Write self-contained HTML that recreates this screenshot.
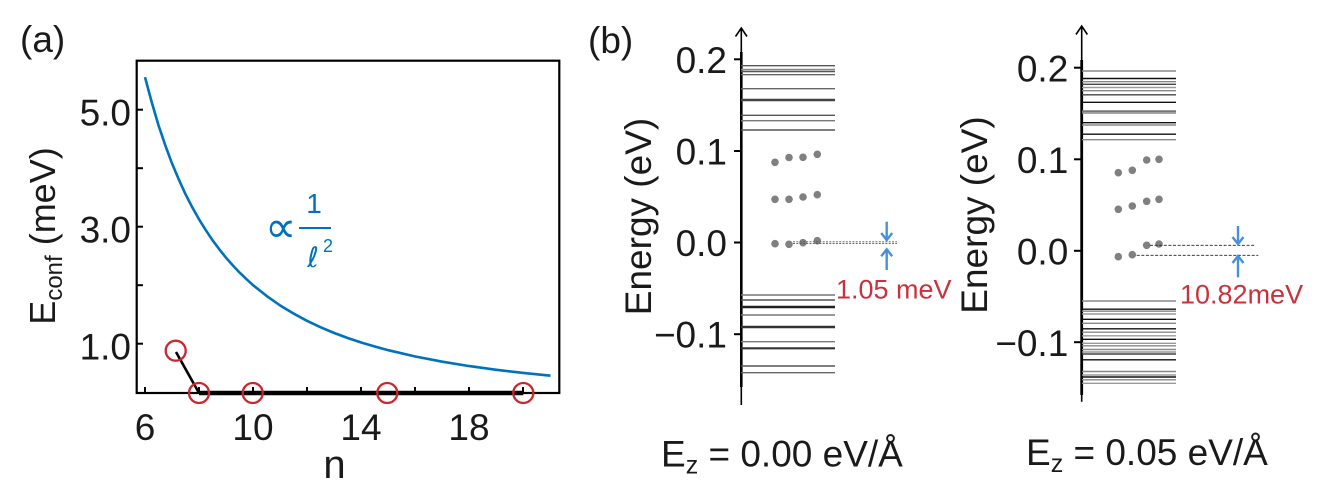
<!DOCTYPE html>
<html>
<head>
<meta charset="utf-8">
<style>
  html,body{margin:0;padding:0;background:#fff;}
  svg{display:block;}
  text{font-family:"Liberation Sans","DejaVu Sans",sans-serif;fill:#1a1a1a;}
</style>
</head>
<body>
<svg width="1325" height="489" viewBox="0 0 1325 489" xmlns="http://www.w3.org/2000/svg">
  <!-- ================= Panel (a) ================= -->
  <text x="20" y="52" font-size="37">(a)</text>

  <!-- blue curve -->
  <polyline fill="none" stroke="#0072bd" stroke-width="2.6" stroke-linejoin="round"
    points="145,77.2 151.8,102.5 158.5,125.3 165.3,145.3 172,163.4 178.8,179.5 185.5,194.2 192.3,207.4 199.1,219.4 205.9,230.3 212.6,240.3 219.4,249.4 226.1,257.8 232.9,265.5 239.6,272.6 246.4,279.1 253.1,285.2 266.6,295.9 280.2,305.5 293.7,313.6 307.2,320.95 320.7,327.3 334.2,333 347.7,338 361.2,342.5 374.8,346.5 388.3,350.2 415.3,356.5 442.3,361.7 469.4,366.1 496.4,369.8 523.4,372.95 550.5,375.7"/>

  <!-- black data line -->
  <polyline fill="none" stroke="#000" stroke-width="2.6" points="176,352 199,393"/>
  <line x1="199" y1="393" x2="523.3" y2="393" stroke="#000" stroke-width="4.5"/>

  <!-- frame -->
  <rect x="136.7" y="60.7" width="422.6" height="332.3" fill="none" stroke="#000" stroke-width="2.2"/>

  <!-- y ticks -->
  <g stroke="#000" stroke-width="2">
    <line x1="137" y1="109.7" x2="143" y2="109.7"/>
    <line x1="137" y1="168.2" x2="143" y2="168.2"/>
    <line x1="137" y1="226.7" x2="143" y2="226.7"/>
    <line x1="137" y1="285.2" x2="143" y2="285.2"/>
    <line x1="137" y1="343.7" x2="143" y2="343.7"/>
    <!-- x ticks -->
    <line x1="145" y1="393" x2="145" y2="387"/>
    <line x1="199" y1="393" x2="199" y2="387"/>
    <line x1="253" y1="393" x2="253" y2="387"/>
    <line x1="307" y1="393" x2="307" y2="387"/>
    <line x1="361" y1="393" x2="361" y2="387"/>
    <line x1="415" y1="393" x2="415" y2="387"/>
    <line x1="469" y1="393" x2="469" y2="387"/>
    <line x1="523" y1="393" x2="523" y2="387"/>
  </g>

  <!-- red circles -->
  <g fill="none" stroke="#c8282e" stroke-width="2.3">
    <circle cx="175.7" cy="350.7" r="10"/>
    <circle cx="199" cy="393" r="10"/>
    <circle cx="252.7" cy="393" r="10"/>
    <circle cx="387.3" cy="393" r="10"/>
    <circle cx="523.3" cy="393" r="10"/>
  </g>

  <!-- y tick labels -->
  <g font-size="37" text-anchor="end">
    <text x="131" y="125.7">5.0</text>
    <text x="131" y="242.7">3.0</text>
    <text x="131" y="359.7">1.0</text>
  </g>
  <!-- x tick labels -->
  <g font-size="37" text-anchor="middle">
    <text x="145" y="440">6</text>
    <text x="253" y="440">10</text>
    <text x="361" y="440">14</text>
    <text x="469" y="440">18</text>
  </g>
  <text x="334.5" y="478" font-size="40" text-anchor="middle">n</text>

  <!-- y label -->
  <text transform="translate(55,236) rotate(-90)" font-size="36" text-anchor="middle">E<tspan font-size="24" dy="7">conf</tspan><tspan dy="-7"> (meV)</tspan></text>

  <!-- annotation -->
  <text x="265" y="242" font-size="44" style="font-family:'DejaVu Sans',sans-serif;fill:#0072bd">∝</text>
  <line x1="299" y1="228" x2="331" y2="228" stroke="#0072bd" stroke-width="2"/>
  <text x="314" y="213" font-size="28" text-anchor="middle" style="fill:#0072bd">1</text>
  <text x="313" y="267" font-size="28" text-anchor="middle" style="font-family:'DejaVu Sans',sans-serif;fill:#0072bd;font-style:italic">ℓ</text>
  <text x="328" y="252" font-size="18" text-anchor="middle" style="fill:#0072bd">2</text>

  <!-- ================= Panel (b) ================= -->
  <text x="588" y="53" font-size="37">(b)</text>

  <!-- ---- b1 ---- -->
  <g>
    <line x1="741.3" y1="28" x2="741.3" y2="405" stroke="#000" stroke-width="1.6"/>
    <line x1="741.3" y1="52" x2="741.3" y2="387" stroke="#000" stroke-width="2.6"/>
    <polyline points="735.5,36.5 741.3,28 747,36.5" fill="none" stroke="#000" stroke-width="1.6"/>
    <g stroke="#000" stroke-width="2">
      <line x1="734" y1="59.3" x2="741.3" y2="59.3"/>
      <line x1="734" y1="151" x2="741.3" y2="151"/>
      <line x1="734" y1="242.5" x2="741.3" y2="242.5"/>
      <line x1="734" y1="334.2" x2="741.3" y2="334.2"/>
    </g>
    <g font-size="37" text-anchor="end">
      <text x="727" y="73">0.2</text>
      <text x="727" y="164.5">0.1</text>
      <text x="727" y="256">0.0</text>
      <text x="727" y="347.7">−0.1</text>
    </g>
    <text transform="translate(651,216.5) rotate(-90)" font-size="37" text-anchor="middle">Energy (eV)</text>

    <!-- bands -->
    <g stroke-width="1.4">
      <line x1="741" y1="65.7" x2="835" y2="65.7" stroke="#555"/>
      <line x1="741" y1="69.5" x2="835" y2="69.5" stroke="#888"/>
      <line x1="741" y1="71.5" x2="835" y2="71.5" stroke="#555"/>
      <line x1="741" y1="74.7" x2="835" y2="74.7" stroke="#666"/>
      <line x1="741" y1="88.7" x2="835" y2="88.7" stroke="#666"/>
      <line x1="741" y1="100" x2="835" y2="100" stroke="#444" stroke-width="2.6"/>
      <line x1="741" y1="115.3" x2="835" y2="115.3" stroke="#555"/>
      <line x1="741" y1="120.7" x2="835" y2="120.7" stroke="#777"/>
      <line x1="741" y1="130" x2="835" y2="130" stroke="#555"/>

      <line x1="741" y1="295" x2="835" y2="295" stroke="#777"/>
      <line x1="741" y1="300" x2="835" y2="300" stroke="#555"/>
      <line x1="741" y1="307" x2="835" y2="307" stroke="#222" stroke-width="2.4"/>
      <line x1="741" y1="315" x2="835" y2="315" stroke="#777"/>
      <line x1="741" y1="327" x2="835" y2="327" stroke="#333" stroke-width="2.4"/>
      <line x1="741" y1="341.7" x2="835" y2="341.7" stroke="#777"/>
      <line x1="741" y1="348.3" x2="835" y2="348.3" stroke="#333" stroke-width="2.2"/>
      <line x1="741" y1="366" x2="835" y2="366" stroke="#555"/>
      <line x1="741" y1="372.7" x2="835" y2="372.7" stroke="#666"/>
    </g>

    <!-- dots -->
    <g fill="#808080">
      <circle cx="775" cy="162.3" r="3.8"/><circle cx="789" cy="157.5" r="3.8"/><circle cx="803" cy="157.3" r="3.8"/><circle cx="817.3" cy="154.3" r="3.8"/>
      <circle cx="775" cy="199.3" r="3.8"/><circle cx="789" cy="199.3" r="3.8"/><circle cx="803" cy="197" r="3.8"/><circle cx="817.3" cy="194.7" r="3.8"/>
      <circle cx="775" cy="243.7" r="3.8"/><circle cx="789" cy="244.3" r="3.8"/><circle cx="803" cy="242.7" r="3.8"/><circle cx="817.3" cy="240.7" r="3.8"/>
    </g>
    <!-- dashed lines -->
    <g stroke="#555" stroke-width="0.9" stroke-dasharray="2,1.3">
      <line x1="793" y1="241.8" x2="897" y2="241.8"/>
      <line x1="793" y1="243.6" x2="897" y2="243.6"/>
    </g>
    <!-- arrows -->
    <g stroke="#4a90d9" stroke-width="2.4" fill="none">
      <line x1="886.7" y1="221.7" x2="886.7" y2="240"/>
      <polyline points="881.2,233 886.7,240 892.2,233"/>
      <line x1="886.7" y1="270" x2="886.7" y2="249.3"/>
      <polyline points="881.2,256.3 886.7,249.3 892.2,256.3"/>
    </g>
    <text x="836" y="298.3" font-size="27" style="fill:#c8323c">1.05 meV</text>

    <text x="661" y="466.7" font-size="37">E<tspan font-size="25" dy="7">z</tspan><tspan dy="-7"> = 0.00 eV/Å</tspan></text>
  </g>

  <!-- ---- b2 ---- -->
  <g>
    <line x1="1081.7" y1="26" x2="1081.7" y2="401.7" stroke="#000" stroke-width="1.6"/>
    <line x1="1081.7" y1="60" x2="1081.7" y2="395" stroke="#000" stroke-width="2.8"/>
    <polyline points="1076,34.5 1081.7,26 1087.4,34.5" fill="none" stroke="#000" stroke-width="1.6"/>
    <g stroke="#000" stroke-width="2">
      <line x1="1074" y1="67.7" x2="1081.7" y2="67.7"/>
      <line x1="1074" y1="159.3" x2="1081.7" y2="159.3"/>
      <line x1="1074" y1="250.8" x2="1081.7" y2="250.8"/>
      <line x1="1074" y1="342.2" x2="1081.7" y2="342.2"/>
    </g>
    <g font-size="37" text-anchor="end">
      <text x="1068.3" y="81.5">0.2</text>
      <text x="1068.3" y="173">0.1</text>
      <text x="1068.3" y="264.5">0.0</text>
      <text x="1068.3" y="356">−0.1</text>
    </g>
    <text transform="translate(987,215) rotate(-90)" font-size="37" text-anchor="middle">Energy (eV)</text>

    <g stroke-width="1.4">
      <line x1="1082" y1="71" x2="1176" y2="71" stroke="#888"/>
      <line x1="1082" y1="78.5" x2="1176" y2="78.5" stroke="#111"/>
      <line x1="1082" y1="81.7" x2="1176" y2="81.7" stroke="#888"/>
      <line x1="1082" y1="84.3" x2="1176" y2="84.3" stroke="#444"/>
      <line x1="1082" y1="87.5" x2="1176" y2="87.5" stroke="#999"/>
      <line x1="1082" y1="90.7" x2="1176" y2="90.7" stroke="#888"/>
      <line x1="1082" y1="94.8" x2="1176" y2="94.8" stroke="#444"/>
      <line x1="1082" y1="102.3" x2="1176" y2="102.3" stroke="#111"/>
      <line x1="1082" y1="111.2" x2="1176" y2="111.2" stroke="#777" stroke-width="1.8"/>
      <line x1="1082" y1="113" x2="1176" y2="113" stroke="#888" stroke-width="1.6"/>
      <line x1="1082" y1="122.7" x2="1176" y2="122.7" stroke="#111"/>
      <line x1="1082" y1="125" x2="1176" y2="125" stroke="#888"/>
      <line x1="1082" y1="134.2" x2="1176" y2="134.2" stroke="#111"/>
      <line x1="1082" y1="139.7" x2="1176" y2="139.7" stroke="#888"/>

      <line x1="1082" y1="301" x2="1176" y2="301" stroke="#888"/>
      <line x1="1082" y1="309.2" x2="1176" y2="309.2" stroke="#111"/>
      <line x1="1082" y1="311.2" x2="1176" y2="311.2" stroke="#888"/>
      <line x1="1082" y1="314" x2="1176" y2="314" stroke="#999"/>
      <line x1="1082" y1="319.3" x2="1176" y2="319.3" stroke="#111"/>
      <line x1="1082" y1="323.3" x2="1176" y2="323.3" stroke="#888"/>
      <line x1="1082" y1="328.8" x2="1176" y2="328.8" stroke="#111"/>
      <line x1="1082" y1="332.2" x2="1176" y2="332.2" stroke="#888"/>
      <line x1="1082" y1="335.8" x2="1176" y2="335.8" stroke="#999"/>
      <line x1="1082" y1="339.3" x2="1176" y2="339.3" stroke="#111"/>
      <line x1="1082" y1="343.3" x2="1176" y2="343.3" stroke="#999"/>
      <line x1="1082" y1="345.8" x2="1176" y2="345.8" stroke="#888"/>
      <line x1="1082" y1="349.5" x2="1176" y2="349.5" stroke="#888"/>
      <line x1="1082" y1="352" x2="1176" y2="352" stroke="#999"/>
      <line x1="1082" y1="354" x2="1176" y2="354" stroke="#444"/>
      <line x1="1082" y1="359.8" x2="1176" y2="359.8" stroke="#111"/>
      <line x1="1082" y1="371.5" x2="1176" y2="371.5" stroke="#888"/>
      <line x1="1082" y1="375" x2="1176" y2="375" stroke="#999"/>
      <line x1="1082" y1="377" x2="1176" y2="377" stroke="#111"/>
      <line x1="1082" y1="379.8" x2="1176" y2="379.8" stroke="#888"/>
      <line x1="1082" y1="383.3" x2="1176" y2="383.3" stroke="#999"/>
    </g>

    <g fill="#808080">
      <circle cx="1118.3" cy="172.7" r="3.8"/><circle cx="1132.3" cy="170.3" r="3.8"/><circle cx="1146.7" cy="160" r="3.8"/><circle cx="1159" cy="159.3" r="3.8"/>
      <circle cx="1118.3" cy="209.3" r="3.8"/><circle cx="1132.3" cy="206" r="3.8"/><circle cx="1146.7" cy="201.3" r="3.8"/><circle cx="1159" cy="199.3" r="3.8"/>
      <circle cx="1118.3" cy="256.7" r="3.8"/><circle cx="1132.3" cy="254.7" r="3.8"/><circle cx="1146.7" cy="245.3" r="3.8"/><circle cx="1159" cy="244" r="3.8"/>
    </g>
    <g stroke="#222" stroke-width="0.9" stroke-dasharray="3,1.6">
      <line x1="1150" y1="245.3" x2="1255" y2="245.3"/>
      <line x1="1136.7" y1="255.3" x2="1258.3" y2="255.3"/>
    </g>
    <g stroke="#4a90d9" stroke-width="2.4" fill="none">
      <line x1="1238" y1="226" x2="1238" y2="244"/>
      <polyline points="1232.5,237 1238,244 1243.5,237"/>
      <line x1="1238" y1="277.3" x2="1238" y2="256"/>
      <polyline points="1232.5,263 1238,256 1243.5,263"/>
    </g>
    <text x="1180" y="303.3" font-size="27" style="fill:#c8323c">10.82meV</text>

    <text x="1026" y="465" font-size="37">E<tspan font-size="25" dy="7">z</tspan><tspan dy="-7"> = 0.05 eV/Å</tspan></text>
  </g>
</svg>
</body>
</html>
